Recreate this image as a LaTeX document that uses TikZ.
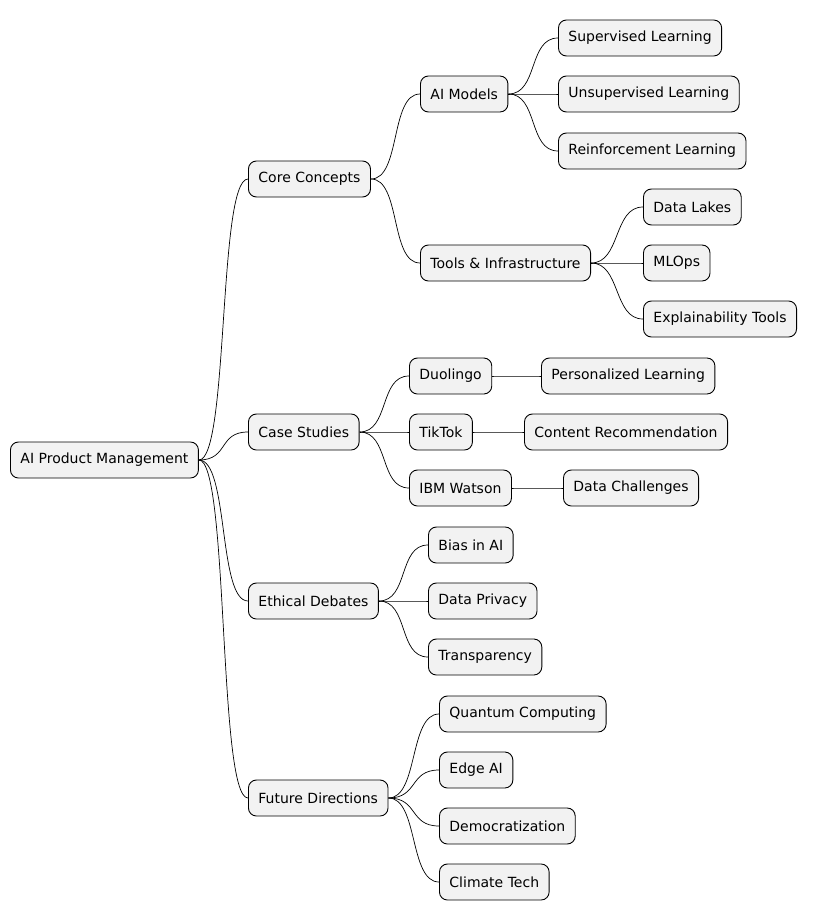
\documentclass[tikz,border=0pt]{standalone}
\usepackage{fontspec}
\setmainfont{DejaVu Sans}
\begin{document}
\begin{tikzpicture}[x=1pt,y=-1pt,
  n/.style={draw=black,fill=black!5,rounded corners=8pt,minimum height=36pt,inner xsep=10pt,anchor=west,font=\fontsize{14}{16}\selectfont,line width=0.9pt},
  e/.style={line width=0.7pt}]
\useasboundingbox (0,0) rectangle (819,920);
\node[n] (root) at (10,460) {AI Product Management};
\node[n] (cc) at (248,179) {Core Concepts};
\node[n] (aim) at (420,94) {AI Models};
\node[n] (sl) at (558,38) {Supervised Learning};
\node[n] (ul) at (558,94) {Unsupervised Learning};
\node[n] (rl) at (558,151) {Reinforcement Learning};
\node[n] (ti) at (420,263) {Tools \& Infrastructure};
\node[n] (dl) at (643,207) {Data Lakes};
\node[n] (ml) at (643,263) {MLOps};
\node[n] (et) at (643,319) {Explainability Tools};
\node[n] (cs) at (248,432) {Case Studies};
\node[n] (du) at (409,376) {Duolingo};
\node[n] (pl) at (541,376) {Personalized Learning};
\node[n] (tt) at (409,432) {TikTok};
\node[n] (cr) at (524,432) {Content Recommendation};
\node[n] (ibm) at (409,488) {IBM Watson};
\node[n] (dc) at (563,488) {Data Challenges};
\node[n] (ed) at (248,601) {Ethical Debates};
\node[n] (bias) at (428,545) {Bias in AI};
\node[n] (dp) at (428,601) {Data Privacy};
\node[n] (tr) at (428,657) {Transparency};
\node[n] (fd) at (248,798) {Future Directions};
\node[n] (qc) at (439,714) {Quantum Computing};
\node[n] (eai) at (439,770) {Edge AI};
\node[n] (dem) at (439,826) {Democratization};
\node[n] (ct) at (439,882) {Climate Tech};
\foreach \p/\c in {root/cc,root/cs,root/ed,root/fd,cc/aim,cc/ti,aim/sl,aim/ul,aim/rl,ti/dl,ti/ml,ti/et,cs/du,cs/tt,cs/ibm,du/pl,tt/cr,ibm/dc,ed/bias,ed/dp,ed/tr,fd/qc,fd/eai,fd/dem,fd/ct}
  \draw[e] (\p.east) .. controls +(30,0) and +(-30,0) .. (\c.west);
\end{tikzpicture}
\end{document}
